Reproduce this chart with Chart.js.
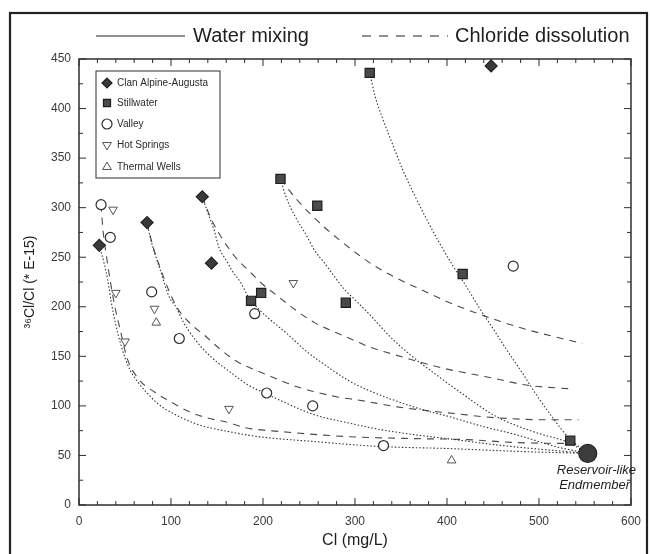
<!DOCTYPE html>
<html>
<head>
<meta charset="utf-8">
<script src="https://cdn.jsdelivr.net/npm/chart.js@4/dist/chart.umd.min.js"></script>
<style>
  html, body { margin: 0; padding: 0; background: #fff; }
  #wrap { width: 650px; height: 554px; position: relative; }
</style>
</head>
<body>
<div id="wrap"><canvas id="chart" width="650" height="554"></canvas></div>
<script>
// sample groups: [Cl mg/L, 36Cl/Cl *1E-15]
const clanAlpine = [[22, 262], [74, 285], [134, 311], [144, 244], [448, 443]];
const stillwater = [[316, 436], [219, 329], [259, 302], [187, 206], [198, 214], [290, 204], [417, 233], [534, 65]];
const valley = [[24, 303], [34, 270], [79, 215], [109, 168], [191, 193], [204, 113], [254, 100], [331, 60], [472, 241]];
const hotSprings = [[37, 298], [40, 214], [50, 165], [82, 198], [233, 224], [163, 97]];
const thermalWells = [[84, 184], [405, 45]];
const endmember = [[553, 52]];

// water mixing curves toward the endmember
const mixA = [[22, 262], [27, 245], [31, 228], [35, 205], [40, 182], [46, 160], [55, 137], [64, 124], [73, 114], [86, 102], [101, 93], [130, 81], [163, 74], [195, 69], [256, 64], [328, 59], [400, 57], [480, 54], [553, 52]];
const mixB = [[74, 285], [78, 268], [82, 255], [89, 235], [98, 210], [106, 199], [112, 187], [127, 166], [144, 149], [166, 133], [184, 121], [204, 112], [220, 105], [256, 91], [292, 83], [328, 76], [364, 71], [400, 67], [460, 60], [553, 52]];
const mixC = [[134, 311], [140, 295], [147, 277], [152, 260], [160, 247], [166, 237], [176, 224], [184, 210], [193, 200], [204, 190], [217, 180], [226, 173], [246, 156], [274, 137], [292, 126], [314, 116], [367, 98], [403, 89], [440, 79], [475, 71], [518, 59], [553, 52]];
const mixD = [[219, 329], [225, 311], [235, 291], [246, 274], [256, 257], [267, 244], [278, 230], [289, 217], [300, 207], [314, 194], [338, 170], [362, 150], [386, 133], [411, 116], [454, 89], [497, 73], [532, 63], [553, 52]];
const mixE = [[316, 436], [322, 412], [330, 390], [340, 366], [352, 338], [365, 312], [378, 288], [392, 264], [406, 242], [420, 222], [435, 199], [450, 178], [466, 155], [482, 133], [498, 110], [515, 88], [532, 68], [553, 52]];

// chloride dissolution paths
const dissA = [[24, 303], [26, 278], [30, 250], [34, 226], [39, 200], [45, 176], [52, 149], [64, 128], [82, 114], [100, 104], [120, 94], [139, 88], [163, 83], [181, 78], [220, 74], [292, 69], [364, 67], [422, 66], [475, 63], [540, 62]];
const dissB = [[74, 285], [80, 262], [88, 240], [97, 218], [106, 200], [120, 184], [138, 170], [155, 156], [173, 144], [192, 136], [213, 128], [238, 119], [281, 109], [303, 106], [346, 99], [371, 96], [411, 92], [440, 89], [472, 87], [504, 86], [543, 86]];
const dissC = [[134, 311], [144, 288], [170, 250], [184, 237], [198, 224], [217, 210], [235, 197], [256, 184], [292, 169], [317, 159], [338, 153], [396, 138], [422, 133], [450, 128], [486, 121], [537, 117]];
const dissD = [[219, 329], [235, 310], [250, 295], [267, 280], [285, 266], [303, 253], [320, 242], [345, 229], [375, 216], [403, 204], [440, 191], [483, 178], [547, 163]];

const xMax = 600, yMax = 450;
const xMajor = 100, xMinor = 20, yMajor = 50, yMinor = 25;

const toXY = arr => arr.map(([x, y]) => ({ x, y }));

const ink = '#2e2e2e';
const FONT = '"Liberation Sans", Arial, sans-serif';

function pointSet(label, data, style, extra) {
  return Object.assign({
    label, data: toXY(data), showLine: false, order: 0,
    pointStyle: style, pointRadius: 5, pointHoverRadius: 5,
    pointBackgroundColor: '#fff', pointBorderColor: ink, pointBorderWidth: 1.2
  }, extra);
}
function curve(data, dash, color) {
  return {
    label: '', data: toXY(data), showLine: true, order: 1,
    pointRadius: 0, pointHoverRadius: 0, borderColor: color, borderWidth: 1.1,
    borderDash: dash, cubicInterpolationMode: 'monotone', fill: false
  };
}

const mixDash = [1.5, 2];
const dissDash = [7, 6];

const datasets = [
  pointSet('Reservoir-like Endmember', endmember, 'circle', { pointRadius: 9, pointBackgroundColor: '#3c3c3c', pointBorderColor: '#222' }),
  pointSet('Clan Alpine-Augusta', clanAlpine, 'rectRot', { pointRadius: 6, pointBackgroundColor: '#3a3a3a', pointBorderColor: '#222' }),
  pointSet('Stillwater', stillwater, 'rect', { pointRadius: 6.5, pointBackgroundColor: '#4a4a4a', pointBorderColor: '#1e1e1e' }),
  pointSet('Valley', valley, 'circle', {}),
  pointSet('Hot Springs', hotSprings, 'triangle', { rotation: 180, pointBorderColor: '#555', pointBorderWidth: 1 }),
  pointSet('Thermal Wells', thermalWells, 'triangle', { pointBorderColor: '#555', pointBorderWidth: 1 }),
  curve(mixA, mixDash, '#333'), curve(mixB, mixDash, '#333'), curve(mixC, mixDash, '#333'),
  curve(mixD, mixDash, '#333'), curve(mixE, mixDash, '#333'),
  curve(dissA, dissDash, '#4a4a4a'), curve(dissB, dissDash, '#4a4a4a'),
  curve(dissC, dissDash, '#4a4a4a'), curve(dissD, dissDash, '#4a4a4a')
];

function seg(ctx, x1, y1, x2, y2) {
  ctx.beginPath(); ctx.moveTo(x1, y1); ctx.lineTo(x2, y2); ctx.stroke();
}

// frame, inward ticks, legends and endmember label
const decor = {
  id: 'decor',
  afterDraw(chart) {
    const { ctx, chartArea: a, scales: { x, y } } = chart;
    ctx.save();
    ctx.strokeStyle = ink;
    ctx.lineWidth = 1.5;
    ctx.strokeRect(a.left, a.top, a.right - a.left, a.bottom - a.top);

    ctx.lineWidth = 1;
    for (let v = 0; v <= xMax; v += xMinor) {
      const len = v % xMajor === 0 ? 7 : 4;
      const px = x.getPixelForValue(v);
      seg(ctx, px, a.bottom, px, a.bottom - len);
      seg(ctx, px, a.top, px, a.top + len);
    }
    for (let v = 0; v <= yMax; v += yMinor) {
      const len = v % yMajor === 0 ? 7 : 4;
      const py = y.getPixelForValue(v);
      seg(ctx, a.left, py, a.left + len, py);
      seg(ctx, a.right, py, a.right - len, py);
    }

    // outer figure border
    ctx.lineWidth = 2.2;
    ctx.strokeStyle = '#222';
    ctx.strokeRect(10, 13, 637, 550);

    // header legend
    ctx.fillStyle = '#1e1e1e';
    ctx.font = '20px ' + FONT;
    ctx.textBaseline = 'middle';
    ctx.lineWidth = 1.2;
    seg(ctx, 96, 36, 185, 36);
    ctx.fillText('Water mixing', 193, 36);
    ctx.setLineDash([9, 8]);
    seg(ctx, 362, 36, 448, 36);
    ctx.setLineDash([]);
    ctx.fillText('Chloride dissolution', 455, 36);

    // symbol legend box
    const bx = 96, by = 71, bw = 124, bh = 107;
    ctx.fillStyle = '#fff';
    ctx.fillRect(bx, by, bw, bh);
    ctx.strokeStyle = ink;
    ctx.lineWidth = 1;
    ctx.strokeRect(bx, by, bw, bh);
    const items = [
      ['Clan Alpine-Augusta', 1, 83], ['Stillwater', 2, 103], ['Valley', 3, 124],
      ['Hot Springs', 4, 145], ['Thermal Wells', 5, 167]
    ];
    ctx.font = '10px ' + FONT;
    items.forEach(([text, di, ty]) => {
      const ds = chart.data.datasets[di];
      ctx.save();
      ctx.fillStyle = ds.pointBackgroundColor;
      ctx.strokeStyle = ds.pointBorderColor;
      ctx.lineWidth = ds.pointBorderWidth;
      Chart.helpers.drawPoint(ctx, {
        pointStyle: ds.pointStyle, rotation: ds.rotation || 0,
        radius: Math.min(ds.pointRadius, 5), borderWidth: ds.pointBorderWidth
      }, 107, ty);
      ctx.restore();
      ctx.fillStyle = '#2a2a2a';
      ctx.fillText(text, 117, ty);
    });

    // endmember label
    ctx.font = 'italic 13px ' + FONT;
    ctx.fillStyle = '#1e1e1e';
    ctx.textAlign = 'right';
    ctx.fillText('Reservoir-like', 636, 470);
    ctx.fillText('Endmember', 630, 485);
    ctx.restore();
  }
};

new Chart(document.getElementById('chart'), {
  type: 'scatter',
  data: { datasets },
  options: {
    responsive: false,
    animation: false,
    layout: { padding: { top: 59, right: 14, left: 0, bottom: 0 } },
    plugins: { legend: { display: false }, tooltip: { enabled: false } },
    scales: {
      x: {
        type: 'linear', min: 0, max: xMax,
        grid: { display: false, drawTicks: false },
        border: { display: false },
        ticks: { stepSize: xMajor, padding: 9, color: '#3a3a3a', font: { family: FONT, size: 12 } },
        title: { display: true, text: 'Cl (mg/L)', color: '#1e1e1e', font: { family: FONT, size: 16 }, padding: { bottom: 4 } },
        afterFit: s => { s.height = 49; }
      },
      y: {
        type: 'linear', min: 0, max: yMax,
        grid: { display: false, drawTicks: false },
        border: { display: false },
        ticks: { stepSize: yMajor, padding: 8, color: '#3a3a3a', font: { family: FONT, size: 12 } },
        title: { display: true, text: '³⁶Cl/Cl (* E-15)', color: '#1e1e1e', font: { family: FONT, size: 14 }, padding: { top: 22 } },
        afterFit: s => { s.width = 79; }
      }
    }
  },
  plugins: [decor]
});
</script>
</body>
</html>
